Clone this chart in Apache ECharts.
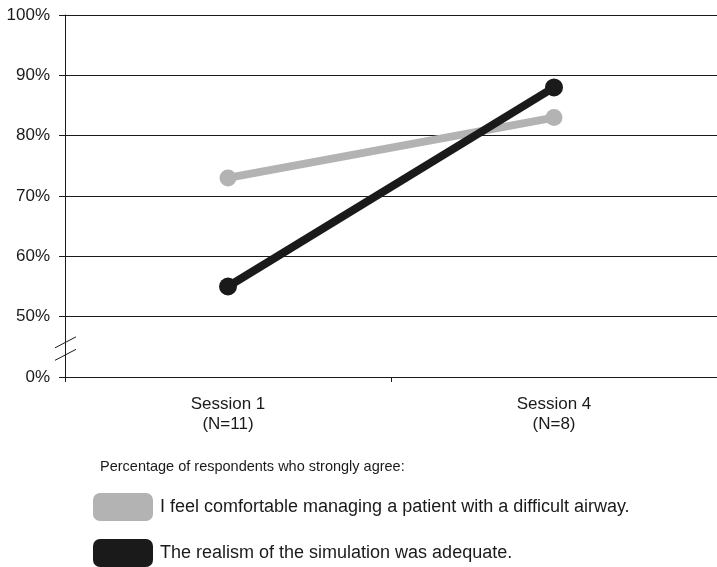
<!DOCTYPE html>
<html><head><meta charset="utf-8">
<script src="https://cdn.jsdelivr.net/npm/echarts@6/dist/echarts.min.js"></script>
<style>html,body{margin:0;padding:0;background:#fff}#c{width:717px;height:567px}</style>
</head><body><div id="c"></div>
<script>
const categories = ['Session 1\n(N=11)', 'Session 4\n(N=8)'];
const seriesNames = ['I feel comfortable managing a patient with a difficult airway.', 'The realism of the simulation was adequate.'];
const comfortable = [73, 83];
const realism = [55, 88];
const yTicks = [40, 50, 60, 70, 80, 90, 100];
const yTickLabels = ['0%', '50%', '60%', '70%', '80%', '90%', '100%'];
const legendTitle = 'Percentage of respondents who strongly agree:';

const font = 'Liberation Sans, Arial, sans-serif';
const chart = echarts.init(document.getElementById('c'), null, {renderer: 'canvas'});
const option = {
  animation: false,
  backgroundColor: '#fff',
  title: {
    text: legendTitle, left: 100, top: 459, padding: 0,
    textStyle: {fontFamily: font, fontSize: 14.5, fontWeight: 'normal', color: '#1a1a1a'}
  },
  legend: {
    orient: 'vertical', left: 93, top: 493, padding: 0, itemWidth: 60, itemHeight: 28, itemGap: 18,
    icon: 'roundRect',
    textStyle: {fontFamily: font, fontSize: 18, color: '#1a1a1a', padding: [2, 0, 0, 2]},
    data: seriesNames
  },
  grid: {left: 65, right: 0, top: 15, bottom: 190},
  xAxis: {
    type: 'category', data: categories, boundaryGap: true,
    axisLine: {lineStyle: {color: '#1a1a1a', width: 1}},
    axisTick: {show: true, length: 5, lineStyle: {color: '#1a1a1a'}},
    axisLabel: {fontFamily: font, fontSize: 17, color: '#1a1a1a', lineHeight: 20, margin: 17}
  },
  yAxis: {
    type: 'value', min: yTicks[0], max: yTicks[yTicks.length - 1], interval: 10,
    axisLine: {show: true, lineStyle: {color: '#1a1a1a', width: 1}},
    axisTick: {show: true, length: 6, lineStyle: {color: '#1a1a1a'}},
    axisLabel: {fontFamily: font, fontSize: 17, color: '#1a1a1a', margin: 15,
      formatter: v => yTickLabels[yTicks.indexOf(v)]},
    splitLine: {show: true, lineStyle: {color: '#1a1a1a', width: 1}}
  },
  series: [
    {name: seriesNames[0], type: 'line', data: comfortable, color: '#b3b3b3',
     lineStyle: {width: 8, color: '#b3b3b3'}, symbol: 'circle', symbolSize: 17,
     itemStyle: {color: '#b3b3b3'}, z: 3},
    {name: seriesNames[1], type: 'line', data: realism, color: '#1a1a1a',
     lineStyle: {width: 8, color: '#1a1a1a'}, symbol: 'circle', symbolSize: 18,
     itemStyle: {color: '#1a1a1a'}, z: 4}
  ]
};
chart.setOption(option);
// axis break marks, positioned through the axis scale
const p = chart.convertToPixel({gridIndex: 0}, [0, 45]);
const x0 = chart.getModel().getComponent('grid').coordinateSystem.getRect().x;
const yc = p[1];
chart.setOption({graphic: [
  {type: 'line', shape: {x1: x0 - 10, y1: yc + 1, x2: x0 + 11, y2: yc - 10}, style: {stroke: '#1a1a1a', lineWidth: 1}},
  {type: 'line', shape: {x1: x0 - 10, y1: yc + 13.5, x2: x0 + 11, y2: yc + 2.5}, style: {stroke: '#1a1a1a', lineWidth: 1}}
]});
</script></body></html>
